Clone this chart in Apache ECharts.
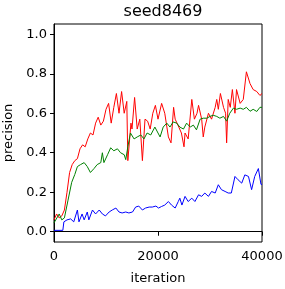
<!DOCTYPE html>
<html>
<head>
<meta charset="utf-8">
<script src="https://cdn.jsdelivr.net/npm/echarts@6/dist/echarts.min.js"></script>
<style>html,body{margin:0;padding:0;background:#fff}#c{width:285px;height:289px}</style>
</head>
<body>
<div id="c"></div>
<script>
const titleText = 'seed8469';
const xName = 'iteration';
const yName = 'precision';
const xTicks = [0, 20000, 40000];
const yTicks = [0, 0.2, 0.4, 0.6, 0.8, 1.0];

const redIter = [0,500,1000,1500,2000,2500,3000,3500,4000,4500,5000,5500,6000,6500,7000,7500,8000,8500,9000,9500,10000,10500,11000,11500,12000,12500,13000,13500,14000,14200,14800,15000,15500,16000,16500,17000,17500,18000,18500,19000,19500,20000,20700,21300,22000,22500,23000,23300,24000,24500,25000,25200,25800,26500,27000,27500,27800,28400,28700,29000,29700,30300,31000,31300,31600,32000,32600,33000,33200,33500,33900,34300,34800,35100,35800,36400,37000,37700,38300,39000,39600,40000];
const redVal = [0.06,0.09,0.07,0.08,0.11,0.20,0.30,0.34,0.36,0.37,0.42,0.44,0.43,0.47,0.50,0.49,0.55,0.58,0.54,0.56,0.62,0.65,0.55,0.63,0.70,0.60,0.71,0.60,0.66,0.36,0.55,0.52,0.68,0.52,0.57,0.36,0.57,0.56,0.52,0.60,0.64,0.57,0.65,0.60,0.48,0.45,0.63,0.57,0.53,0.50,0.43,0.50,0.47,0.67,0.57,0.60,0.64,0.57,0.48,0.53,0.60,0.57,0.63,0.67,0.62,0.70,0.63,0.60,0.45,0.67,0.63,0.72,0.60,0.72,0.65,0.67,0.81,0.75,0.72,0.71,0.69,0.70];

const greenIter = [0,1000,1500,2000,2200,2700,3400,4000,4500,5100,5800,6400,7000,7700,8300,9000,9300,9600,10300,10900,11500,12200,12800,13500,13800,14200,14700,15400,16000,16700,17300,17900,18600,19400,20000,20400,21000,21700,22300,22900,23600,24200,24900,25500,26200,26800,27400,28100,28700,29400,30000,30600,31300,31900,32600,33200,33800,34500,35100,35800,36400,37000,37700,38300,39000,39600,40000];
const greenVal = [0.045,0.09,0.06,0.07,0.08,0.16,0.25,0.29,0.33,0.34,0.35,0.33,0.30,0.32,0.34,0.35,0.40,0.35,0.39,0.425,0.41,0.42,0.40,0.39,0.365,0.43,0.50,0.47,0.48,0.49,0.47,0.50,0.49,0.53,0.50,0.48,0.53,0.55,0.53,0.556,0.55,0.53,0.52,0.55,0.53,0.54,0.516,0.57,0.575,0.575,0.584,0.59,0.584,0.575,0.584,0.56,0.60,0.626,0.62,0.626,0.62,0.63,0.61,0.62,0.609,0.63,0.63];

const blueIter = [0,1700,1900,2500,3200,3800,4500,4800,5400,5800,6400,6700,7400,8000,8700,9300,9900,10600,11200,11900,12500,13100,13800,14400,15100,15700,16300,17000,17600,18300,18900,19600,20100,20700,21300,22000,22600,23300,23900,24200,24600,25200,25800,26500,27100,27800,28400,29000,29700,30300,31000,31600,32200,32900,33500,34100,34800,35400,36100,36700,37400,38000,38600,39300,39800,40000];
const blueVal = [0.007,0.007,0.05,0.06,0.065,0.05,0.11,0.05,0.09,0.06,0.10,0.06,0.11,0.09,0.11,0.09,0.08,0.10,0.11,0.12,0.10,0.095,0.10,0.095,0.10,0.125,0.13,0.11,0.12,0.125,0.125,0.13,0.12,0.128,0.135,0.153,0.135,0.12,0.153,0.17,0.135,0.179,0.153,0.17,0.153,0.187,0.179,0.196,0.179,0.204,0.196,0.238,0.213,0.204,0.196,0.196,0.28,0.263,0.246,0.288,0.28,0.213,0.28,0.32,0.24,0.24];

function pairs(xs, ys) { return xs.map((x, i) => [x, ys[i]]); }

const font = 'DejaVu Sans';
const chart = echarts.init(document.getElementById('c'), null, {renderer: 'canvas'});
const mkLine = (name, xs, ys, color) => ({
  name, type: 'line', data: pairs(xs, ys), showSymbol: false, symbol: 'none',
  lineStyle: {color, width: 1}, itemStyle: {color}, animation: false
});
chart.setOption({
  animation: false,
  title: {text: titleText, left: 158, top: -1, textAlign: 'center',
    textStyle: {fontFamily: font, fontSize: 16, fontWeight: 'normal', color: '#000'}},
  grid: {left: 54, right: 23, top: 24, bottom: 47, containLabel: false, outerBoundsMode: 'none',
    show: true, borderColor: '#000', borderWidth: 1, backgroundColor: 'transparent'},
  xAxis: {
    type: 'value', min: 0, max: 40000, interval: 20000,
    name: xName, nameLocation: 'middle', nameGap: 30,
    nameTextStyle: {fontFamily: font, fontSize: 13, color: '#000'},
    axisLine: {show: true, lineStyle: {color: '#000', width: 1}},
    axisTick: {show: true, inside: false, length: 4, lineStyle: {color: '#000'}, customValues: xTicks},
    axisLabel: {fontFamily: font, fontSize: 13, color: '#000', margin: 8, formatter: v => String(v), customValues: xTicks},
    splitLine: {show: false}
  },
  yAxis: {
    type: 'value', min: -0.052, max: 1.052,
    name: yName, nameLocation: 'middle', nameGap: 37,
    nameTextStyle: {fontFamily: font, fontSize: 13, color: '#000'},
    axisLine: {show: true, lineStyle: {color: '#000', width: 1}},
    axisTick: {show: true, inside: false, length: 4, lineStyle: {color: '#000'}, customValues: yTicks},
    axisLabel: {fontFamily: font, fontSize: 13, color: '#000', margin: 7, formatter: v => v.toFixed(1), customValues: yTicks},
    splitLine: {show: false}
  },
  series: [
    mkLine('red', redIter, redVal, '#ff0000'),
    mkLine('green', greenIter, greenVal, '#008000'),
    mkLine('blue', blueIter, blueVal, '#0000ff')
  ]
});
</script>
</body>
</html>
